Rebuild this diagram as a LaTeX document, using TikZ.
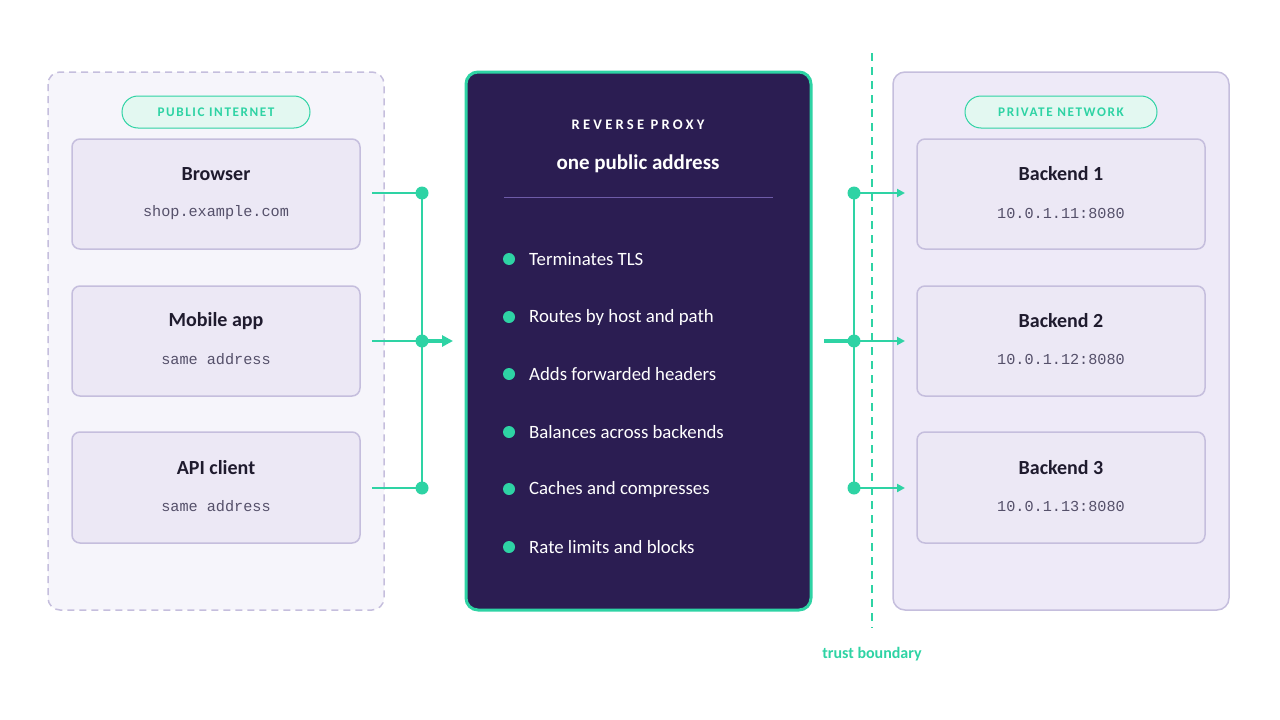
\documentclass[tikz,border=0pt]{standalone}
\usepackage{fontspec}
\setmainfont{Carlito}
\setmonofont{Liberation Mono}
\usetikzlibrary{arrows.meta}
\definecolor{green}{HTML}{2ED3A4}
\definecolor{pillfill}{HTML}{E3F8F1}
\definecolor{lav}{HTML}{C5BEDD}
\definecolor{outerfill}{HTML}{F6F5FB}
\definecolor{rightfill}{HTML}{EEEAF8}
\definecolor{boxfill}{HTML}{ECE8F5}
\definecolor{navy}{HTML}{2B1D52}
\definecolor{sep}{HTML}{6E5BA8}
\definecolor{ink}{HTML}{1F1B2E}
\definecolor{monoink}{HTML}{55506A}
\tikzset{
  container/.style={draw=lav, line width=1.5pt, rounded corners=12pt},
  pill/.style={draw=green, fill=pillfill, line width=1pt, rounded corners=16pt, minimum width=#1, minimum height=32pt, inner sep=0pt, text=green, font=\fontsize{13.2}{15}\selectfont\bfseries\addfontfeatures{LetterSpace=12}},
  card/.style={draw=lav, fill=boxfill, line width=1.5pt, rounded corners=8pt},
  cardtitle/.style={text=ink, font=\fontsize{20}{22}\selectfont\bfseries},
  cardsub/.style={text=monoink, font=\fontsize{15.2}{17}\selectfont\ttfamily},
  conn/.style={draw=green, line width=2pt},
  dot/.style={circle, fill=green, minimum size=13pt, inner sep=0pt},
  bdot/.style={circle, fill=green, minimum size=12pt, inner sep=0pt},
  bullettext/.style={anchor=west, text=white, font=\fontsize{18.8}{21}\selectfont, inner sep=0pt},
}
\begin{document}
\begin{tikzpicture}[x=1pt,y=-1pt]
\useasboundingbox (0,0) rectangle (1280,720);
% left container
\draw[container, fill=outerfill, dashed, dash pattern=on 7pt off 5pt] (48,72) rectangle (384,610);
\node[pill=188pt] (pubpill) at (216,112) {PUBLIC INTERNET};
% left cards
\draw[card] (72,139) rectangle (360,249);
\node[cardtitle] (browser) at (216,174) {Browser};
\node[cardsub] (browsersub) at (216,213) {shop.example.com};
\draw[card] (72,286) rectangle (360,396);
\node[cardtitle] (mobile) at (216,321) {Mobile app};
\node[cardsub] (mobilesub) at (216,359) {same address};
\draw[card] (72,432) rectangle (360,543);
\node[cardtitle] (api) at (216,468) {API client};
\node[cardsub] (apisub) at (216,506) {same address};
% right container
\draw[container, fill=rightfill] (893,72) rectangle (1229,610);
\node[pill=192pt] (privpill) at (1061,112) {PRIVATE NETWORK};
\draw[card] (917,139) rectangle (1205,249);
\node[cardtitle] (b1) at (1061,174) {Backend 1};
\node[cardsub] (b1sub) at (1061,213) {10.0.1.11:8080};
\draw[card] (917,286) rectangle (1205,396);
\node[cardtitle] (b2) at (1061,321) {Backend 2};
\node[cardsub] (b2sub) at (1061,359) {10.0.1.12:8080};
\draw[card] (917,432) rectangle (1205,543);
\node[cardtitle] (b3) at (1061,468) {Backend 3};
\node[cardsub] (b3sub) at (1061,506) {10.0.1.13:8080};
% central proxy
\draw[draw=green, fill=navy, line width=3pt, rounded corners=12pt] (466,72) rectangle (811,610);
\node[text=white, font=\fontsize{14.6}{16}\selectfont\bfseries\addfontfeatures{LetterSpace=22}] (rp) at (638,125) {REVERSE PROXY};
\node[text=white, font=\fontsize{21}{23}\selectfont\bfseries] (addr) at (638,164) {one public address};
\draw[sep, line width=1pt] (504,197) -- (773,197);
\foreach \y/\t [count=\i] in {259/Terminates TLS, 317/Routes by host and path, 374/Adds forwarded headers, 432/Balances across backends, 489/Caches and compresses, 547/Rate limits and blocks} {
  \node[bdot] (bd\i) at (509,\y) {};
  \node[bullettext] (bt\i) at (529,\y) {\t};
}
% left connectors
\coordinate (l1) at (372,193);
\coordinate (l2) at (372,341);
\coordinate (l3) at (372,488);
\node[dot] (j1) at (422,193) {};
\node[dot] (j2) at (422,341) {};
\node[dot] (j3) at (422,488) {};
\coordinate (inarrow) at (453,341);
\draw[conn] (l1) -- (j1.center);
\draw[conn] (l2) -- (j2.center);
\draw[conn] (l3) -- (j3.center);
\draw[conn] (j1.center) -- (j3.center);
\draw[green, line width=3.5pt, -{Triangle[length=11pt,width=11pt]}] (j2.center) -- (inarrow);
% trust boundary
\coordinate (tbtop) at (872,53);
\coordinate (tbbot) at (872,628);
\draw[green, line width=2pt, dash pattern=on 8pt off 6pt] (tbtop) -- (tbbot);
\node[text=green, font=\fontsize{16}{18}\selectfont\bfseries] (tblabel) at (872,654) {trust boundary};
% right connectors
\coordinate (out) at (824,341);
\node[dot] (k1) at (854,193) {};
\node[dot] (k2) at (854,341) {};
\node[dot] (k3) at (854,488) {};
\coordinate (r1) at (905,193);
\coordinate (r2) at (905,341);
\coordinate (r3) at (905,488);
\draw[green, line width=3.5pt] (out) -- (k2.center);
\draw[conn] (k1.center) -- (k3.center);
\draw[conn, -{Triangle[length=8pt,width=8pt]}] (k1.center) -- (r1);
\draw[conn, -{Triangle[length=8pt,width=8pt]}] (k2.center) -- (r2);
\draw[conn, -{Triangle[length=8pt,width=8pt]}] (k3.center) -- (r3);
\end{tikzpicture}
\end{document}
